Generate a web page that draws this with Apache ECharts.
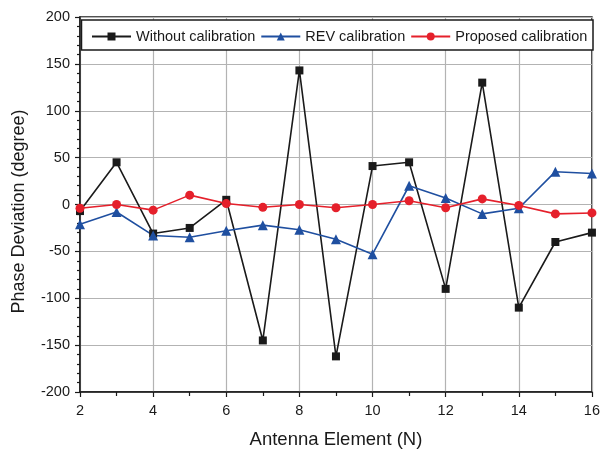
<!DOCTYPE html>
<html>
<head>
<meta charset="utf-8">
<script src="https://cdn.jsdelivr.net/npm/echarts@6/dist/echarts.min.js"></script>
<style>
  html, body { margin: 0; padding: 0; background: #fff; }
  #chart { width: 603px; height: 454px; }
</style>
</head>
<body>
<div id="chart"></div>
<script>
// Antenna element index
const elements = [2, 3, 4, 5, 6, 7, 8, 9, 10, 11, 12, 13, 14, 15, 16];

// Phase deviation (degree) per element
const withoutCalibration = [-7, 45, -31, -25, 5, -145, 143, -162, 41, 45, -90, 130, -110, -40, -30];
const revCalibration = [-21, -8, -33, -35, -28, -22, -27, -37, -53, 20, 7, -10, -4, 35, 33];
const proposedCalibration = [-4, 0, -6, 10, 1, -3, 0, -3.5, 0, 4, -3.5, 6, -1, -10, -9];

const seriesNames = ['Without calibration', 'REV calibration', 'Proposed calibration'];
const seriesColors = ['#1a1a1a', '#1f4fa0', '#e5202b'];

const FONT = '"Liberation Sans", Arial, sans-serif';

const pairs = arr => elements.map((x, i) => [x, arr[i]]);

const chart = echarts.init(document.getElementById('chart'), null, { renderer: 'canvas' });

const gridLeft = 80, gridRight = 9, gridTop = 17, gridBottom = 59;

function lineSeries(name, data, color, symbol, size) {
  return {
    name: name,
    type: 'line',
    data: pairs(data),
    symbol: symbol,
    symbolSize: size,
    color: color,
    lineStyle: { color: color, width: 1.6 },
    itemStyle: { color: color },
    z: 3
  };
}

chart.setOption({
  animation: false,
  backgroundColor: '#fff',
  textStyle: { fontFamily: FONT },
  grid: {
    left: gridLeft, right: gridRight, top: gridTop, bottom: gridBottom,
    show: true, borderColor: '#1a1a1a', borderWidth: 1.5, backgroundColor: 'transparent'
  },
  graphic: [{
    type: 'rect',
    z: 4,
    shape: { x: 81.5, y: 20, width: 511.5, height: 30 },
    style: { fill: '#fff', stroke: '#1a1a1a', lineWidth: 1.5 }
  }],
  legend: {
    z: 10,
    top: 29,
    left: 91,
    padding: 0,
    itemWidth: 39,
    itemHeight: 10,
    itemGap: 5,
    textStyle: { fontFamily: FONT, fontSize: 14.5, color: '#1a1a1a' },
    data: seriesNames
  },
  xAxis: {
    type: 'value',
    min: 2, max: 16, interval: 2,
    name: 'Antenna Element (N)',
    nameLocation: 'middle',
    nameGap: 38,
    nameTextStyle: { fontFamily: FONT, fontSize: 18.5, color: '#1a1a1a' },
    axisLine: { show: true, onZero: false, lineStyle: { color: '#1a1a1a', width: 1.5 } },
    axisTick: { show: true, inside: false, length: 5, lineStyle: { color: '#1a1a1a', width: 1.2 } },
    minorTick: { show: true, splitNumber: 2, length: 4, lineStyle: { color: '#1a1a1a', width: 1.2 } },
    axisLabel: { fontFamily: FONT, fontSize: 14.5, color: '#1a1a1a', margin: 11 },
    splitLine: { show: true, lineStyle: { color: '#b3b3b3', width: 1.2 } }
  },
  yAxis: {
    type: 'value',
    min: -200, max: 200, interval: 50,
    name: 'Phase Deviation (degree)',
    nameLocation: 'middle',
    nameGap: 52,
    nameTextStyle: { fontFamily: FONT, fontSize: 18, color: '#1a1a1a', padding: [0, 14, 0, 0] },
    axisLine: { show: true, onZero: false, lineStyle: { color: '#1a1a1a', width: 1.5 } },
    axisTick: { show: true, inside: false, length: 5, lineStyle: { color: '#1a1a1a', width: 1.2 } },
    minorTick: { show: true, splitNumber: 5, length: 3, lineStyle: { color: '#1a1a1a', width: 1.2 } },
    axisLabel: { fontFamily: FONT, fontSize: 14.5, color: '#1a1a1a', margin: 10 },
    splitLine: { show: true, lineStyle: { color: '#b3b3b3', width: 1.2 } }
  },
  series: [
    lineSeries(seriesNames[0], withoutCalibration, seriesColors[0], 'rect', 8),
    lineSeries(seriesNames[1], revCalibration, seriesColors[1], 'triangle', 10),
    lineSeries(seriesNames[2], proposedCalibration, seriesColors[2], 'circle', 9)
  ]
});
</script>
</body>
</html>
